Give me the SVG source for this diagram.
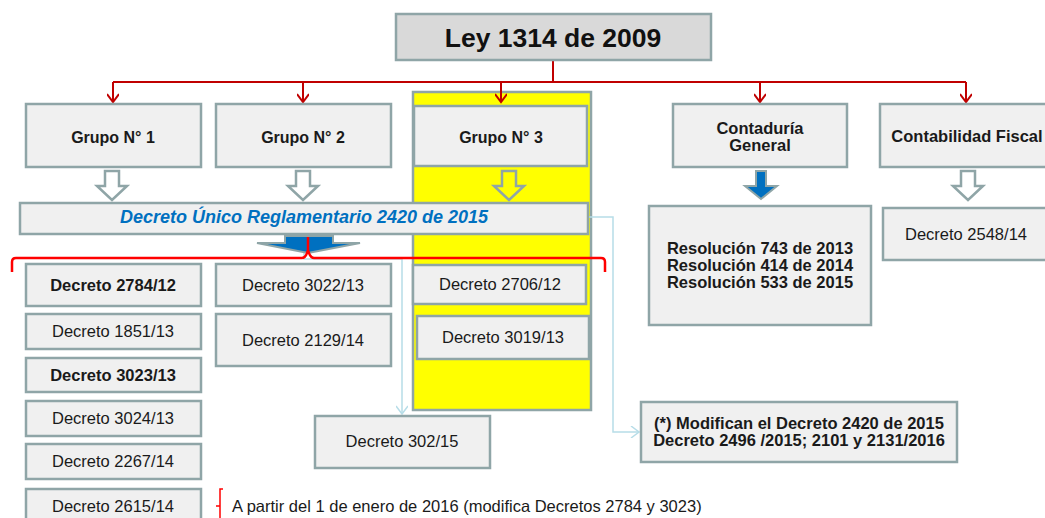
<svg xmlns="http://www.w3.org/2000/svg" width="1045" height="518" viewBox="0 0 1045 518">
<defs>
<style>
.box{fill:#f0f0f0;stroke:#8fa5a7;stroke-width:2.5}
.t{font-family:"Liberation Sans",Arial,sans-serif;font-size:16.5px;fill:#1a1a1a;text-anchor:middle}
.b{font-weight:bold}
.hollow{fill:none;stroke:#8fa5a7;stroke-width:2.5;stroke-linejoin:miter}
.blue{fill:#0070c0;stroke:#8fa5a7;stroke-width:2}
.red{fill:none;stroke:#c00000;stroke-width:2}
.brk{fill:none;stroke:#ff0000;stroke-width:2.5}
.lc{fill:none;stroke:#b7dde8;stroke-width:1.5}
</style>
<marker id="ra" markerWidth="12" markerHeight="12" refX="10" refY="6" orient="auto" markerUnits="userSpaceOnUse" viewBox="0 0 12 12">
<path d="M2,0 L10,6 L2,12" fill="none" stroke="#c00000" stroke-width="2"/>
</marker>
<marker id="la" markerWidth="12" markerHeight="12" refX="10" refY="6" orient="auto" markerUnits="userSpaceOnUse" viewBox="0 0 12 12">
<path d="M2,0 L10,6 L2,12" fill="none" stroke="#b7dde8" stroke-width="1.5"/>
</marker>
</defs>
<rect width="1045" height="518" fill="#ffffff"/>

<g id="col3-bg">
<rect x="413" y="92" width="178" height="318" fill="#ffff00" stroke="#8fa5a7" stroke-width="2.5"/>
</g>

<g id="connectors">
<path class="red" d="M553 60 V82"/>
<path class="red" d="M113 82 H966"/>
<path class="red" d="M113 82 V102" marker-end="url(#ra)"/>
<path class="red" d="M303 82 V102" marker-end="url(#ra)"/>
<path class="red" d="M501 82 V102" marker-end="url(#ra)"/>
<path class="red" d="M760 82 V102" marker-end="url(#ra)"/>
<path class="red" d="M966 82 V102" marker-end="url(#ra)"/>
<path class="hollow" d="M105 171 H119 V186 H127 L112 200 L97 186 H105 Z"/>
<path class="hollow" d="M296 171 H310 V186 H318 L303 200 L288 186 H296 Z"/>
<path class="hollow" d="M502 171 H516 V186 H524 L509 200 L494 186 H502 Z"/>
<path class="hollow" d="M961 171 H975 V186 H983 L968 200 L953 186 H961 Z"/>
<path class="blue" d="M756 171 H766 V186 H777 L761 199 L745 186 H756 Z"/>
<path class="lc" d="M588 217 H613 V432 H639" marker-end="url(#la)"/>
<path class="lc" d="M304 248 V259 H402 V414" marker-end="url(#la)"/>
</g>

<g id="ley">
<rect x="396" y="14" width="315" height="46" fill="#d9d9d9" stroke="#8fa5a7" stroke-width="2.5"/>
<text class="t b" x="553" y="47" style="font-size:26.5px;fill:#111">Ley 1314 de 2009</text>
</g>

<g id="grupo1">
<rect class="box" x="26" y="104" width="175" height="63"/>
<text class="t b" x="113" y="143" style="font-size:16px">Grupo N° 1</text>
</g>
<g id="grupo2">
<rect class="box" x="216" y="104" width="175" height="63"/>
<text class="t b" x="303" y="143" style="font-size:16px">Grupo N° 2</text>
</g>
<g id="grupo3">
<rect class="box" x="414" y="106" width="173" height="60"/>
<text class="t b" x="501" y="143" style="font-size:16px">Grupo N° 3</text>
</g>
<g id="contaduria">
<rect class="box" x="673" y="104" width="174" height="63"/>
<text class="t b" x="760" y="134">Contaduría</text>
<text class="t b" x="760" y="151">General</text>
</g>
<g id="contabilidad">
<rect class="box" x="880" y="104" width="168" height="63"/>
<text class="t b" x="967" y="142">Contabilidad Fiscal</text>
</g>

<g id="dur">
<rect class="box" x="20" y="203" width="568" height="31"/>
<text class="t b" x="304" y="223" style="font-style:italic;fill:#0070c0;font-size:18px">Decreto Único Reglamentario 2420 de 2015</text>
</g>
<g id="dur-arrow">
<path class="blue" d="M285 236 H333 V243 H360 L308 253 L257 243 H285 Z"/>
</g>
<g id="bracket">
<path class="brk" d="M12 272 V262 Q12 258 16 258 H302 Q306 258 308 250 V237 M308 250 Q310 258 314 258 H601 Q605 258 605 262 V272"/>
</g>

<g id="resol">
<rect class="box" x="649" y="206" width="222" height="119"/>
<text class="t b" x="760" y="254">Resolución 743 de 2013</text>
<text class="t b" x="760" y="271">Resolución 414 de 2014</text>
<text class="t b" x="760" y="288">Resolución 533 de 2015</text>
</g>
<g id="d2548">
<rect class="box" x="883" y="208" width="166" height="52"/>
<text class="t" x="966" y="240">Decreto 2548/14</text>
</g>

<g id="d2784"><rect class="box" x="26" y="264" width="175" height="42"/><text class="t b" x="113" y="291">Decreto 2784/12</text></g>
<g id="d1851"><rect class="box" x="26" y="314" width="175" height="35"/><text class="t" x="113" y="337">Decreto 1851/13</text></g>
<g id="d3023"><rect class="box" x="26" y="358" width="175" height="34"/><text class="t b" x="113" y="381">Decreto 3023/13</text></g>
<g id="d3024"><rect class="box" x="26" y="401" width="175" height="35"/><text class="t" x="113" y="424">Decreto 3024/13</text></g>
<g id="d2267"><rect class="box" x="26" y="444" width="175" height="35"/><text class="t" x="113" y="467">Decreto 2267/14</text></g>
<g id="d2615"><rect class="box" x="26" y="489" width="175" height="36"/><text class="t" x="113" y="512">Decreto 2615/14</text></g>

<g id="d3022"><rect class="box" x="216" y="264" width="175" height="42"/><text class="t" x="303" y="291">Decreto 3022/13</text></g>
<g id="d2129"><rect class="box" x="216" y="314" width="175" height="52"/><text class="t" x="303" y="346">Decreto 2129/14</text></g>

<g id="d2706"><rect class="box" x="413" y="265" width="173" height="39"/><text class="t" x="500" y="290">Decreto 2706/12</text></g>
<g id="d3019"><rect class="box" x="417" y="316" width="172" height="43"/><text class="t" x="503" y="343">Decreto 3019/13</text></g>

<g id="d302"><rect class="box" x="315" y="416" width="175" height="52"/><text class="t" x="402" y="447">Decreto 302/15</text></g>

<g id="modifican">
<rect class="box" x="641" y="402" width="316" height="60"/>
<text class="t b" x="799" y="429">(*) Modifican el Decreto 2420 de 2015</text>
<text class="t b" x="799" y="446">Decreto 2496 /2015; 2101 y 2131/2016</text>
</g>

<g id="nota">
<path d="M223 489 H220 V518 M220 506 H216" fill="none" stroke="#ff0000" stroke-width="1.5"/>
<text class="t" x="232" y="512" style="text-anchor:start;font-size:16.5px">A partir del 1 de enero de 2016 (modifica Decretos 2784 y 3023)</text>
</g>
</svg>
